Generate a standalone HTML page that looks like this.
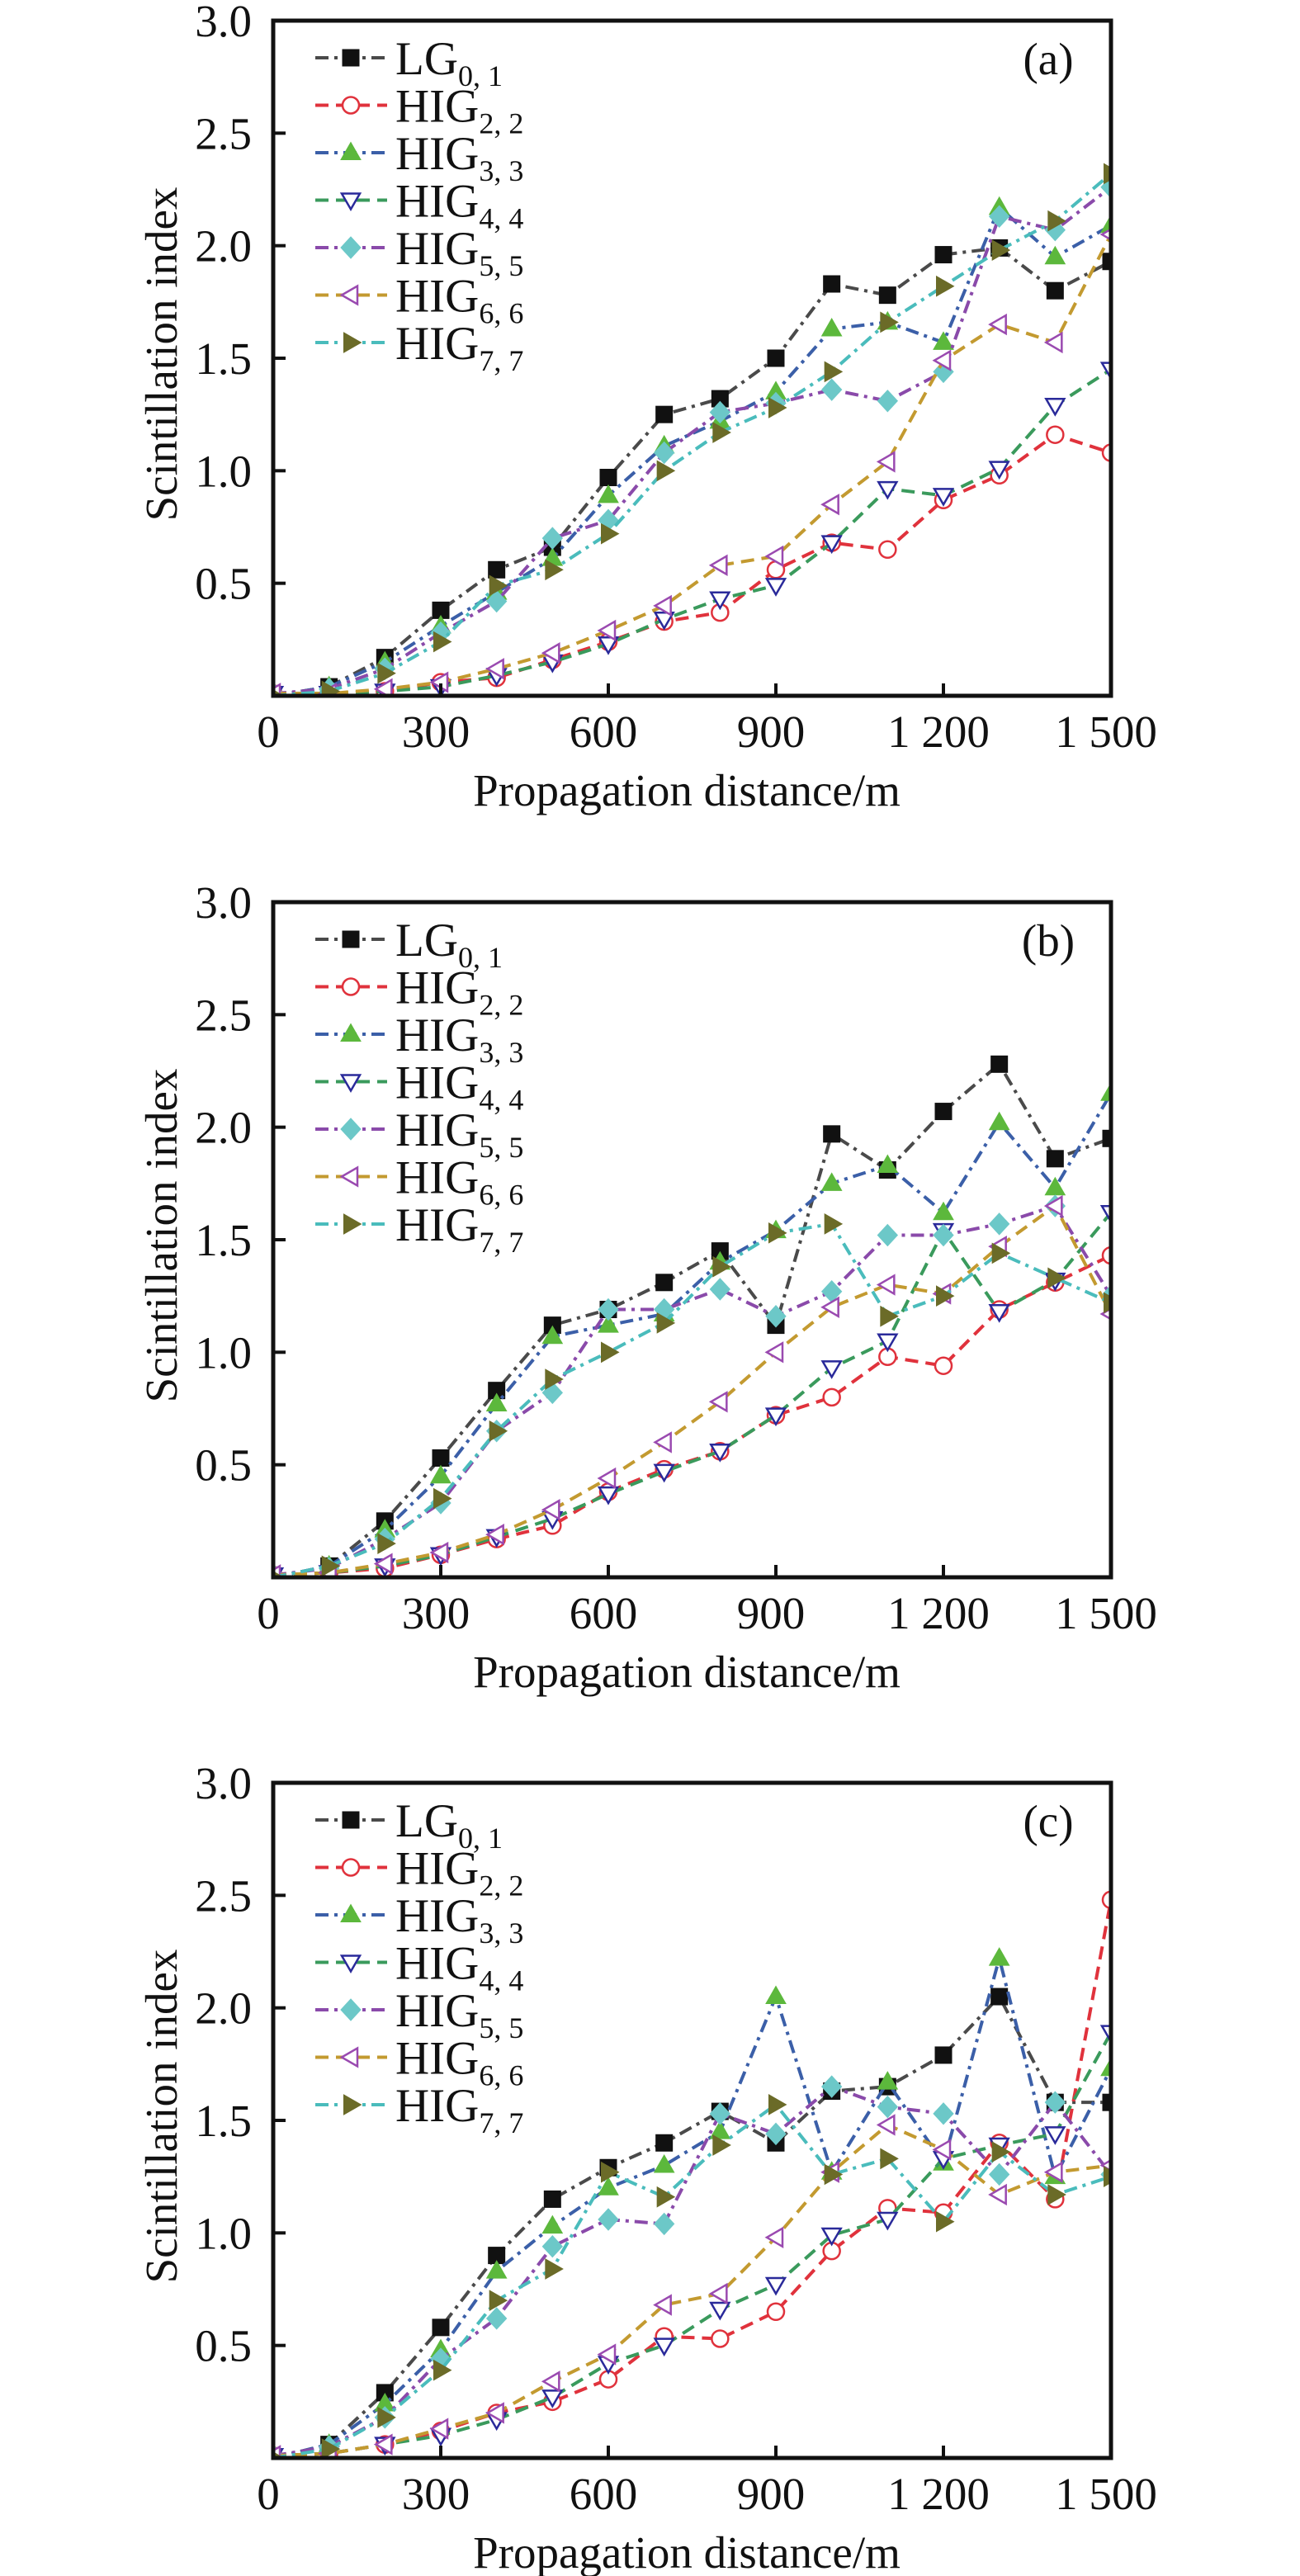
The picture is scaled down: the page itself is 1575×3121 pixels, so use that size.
<!DOCTYPE html>
<html><head><meta charset="utf-8"><style>
html,body{margin:0;padding:0;background:#fff;}
svg{display:block;}
text{font-family:"Liberation Serif","DejaVu Serif",serif;fill:#111;}
</style></head><body>
<svg id="s" width="1575" height="3121" viewBox="0 0 1575 3121" xmlns="http://www.w3.org/2000/svg"></svg>
<script>
const S=document.getElementById('s');const NS='http://www.w3.org/2000/svg';
function el(t,a,p){const e=document.createElementNS(NS,t);for(const k in a)e.setAttribute(k,a[k]);(p||S).appendChild(e);return e;}
const L=331,R=1346,W=R-L,H=818;
const DASH='16,9',DD='16,7,4,7';
const series=[
 {name:'LG',sub:'0, 1',lc:'#4a4a4a',dash:DD,m:'sq',mc:'#111',fill:true},
 {name:'HIG',sub:'2, 2',lc:'#e0323c',dash:DASH,m:'circ',mc:'#e0323c',fill:false},
 {name:'HIG',sub:'3, 3',lc:'#3b5fa8',dash:DD,m:'tri',mc:'#5cb83c',fill:true},
 {name:'HIG',sub:'4, 4',lc:'#3a9a5c',dash:DASH,m:'dtri',mc:'#2a2a9a',fill:false},
 {name:'HIG',sub:'5, 5',lc:'#8a4aaa',dash:DD,m:'dia',mc:'#6cc8c8',fill:true},
 {name:'HIG',sub:'6, 6',lc:'#c39a30',dash:DASH,m:'ltri',mc:'#9a4ab0',fill:false},
 {name:'HIG',sub:'7, 7',lc:'#4abcbc',dash:DD,m:'rtri',mc:'#6b6b28',fill:true}];
const data={
a:[[0,.04,.17,.38,.56,.66,.97,1.25,1.32,1.50,1.83,1.78,1.96,1.99,1.80,1.93],
[.01,.01,.02,.06,.08,.16,.24,.33,.37,.56,.68,.65,.87,.98,1.16,1.08],
[0,.04,.15,.31,.46,.61,.89,1.11,1.22,1.35,1.63,1.66,1.57,2.17,1.95,2.09],
[.01,.01,.02,.04,.09,.15,.23,.34,.43,.49,.68,.92,.89,1.01,1.29,1.45],
[.01,.03,.12,.28,.42,.70,.78,1.08,1.26,1.30,1.36,1.31,1.44,2.13,2.07,2.26],
[.01,.01,.03,.06,.12,.19,.29,.40,.58,.62,.85,1.04,1.49,1.65,1.57,2.05],
[0,.02,.10,.24,.49,.56,.72,1.00,1.17,1.28,1.44,1.66,1.82,1.98,2.11,2.32]],
b:[[0,.05,.25,.53,.83,1.12,1.19,1.31,1.45,1.12,1.97,1.81,2.07,2.28,1.86,1.95],
[.01,.02,.04,.10,.17,.23,.38,.48,.56,.72,.80,.98,.94,1.19,1.31,1.43],
[0,.05,.21,.45,.77,1.07,1.12,1.17,1.40,1.54,1.75,1.83,1.62,2.02,1.73,2.15],
[.01,.02,.05,.10,.18,.26,.37,.47,.56,.72,.93,1.05,1.54,1.18,1.32,1.62],
[.01,.04,.17,.33,.65,.82,1.19,1.19,1.28,1.16,1.27,1.52,1.52,1.57,1.65,1.25],
[.01,.02,.06,.11,.19,.30,.44,.60,.78,1.00,1.20,1.30,1.26,1.47,1.65,1.17],
[0,.05,.15,.35,.65,.88,1.00,1.13,1.38,1.53,1.57,1.16,1.25,1.44,1.33,1.22]],
c:[[0,.06,.29,.58,.90,1.15,1.29,1.40,1.54,1.40,1.63,1.65,1.79,2.05,1.58,1.58],
[.01,.02,.06,.12,.20,.25,.35,.54,.53,.65,.92,1.11,1.09,1.40,1.15,2.48],
[0,.06,.24,.48,.83,1.03,1.20,1.30,1.45,2.05,1.27,1.67,1.31,2.22,1.25,1.73],
[.01,.02,.06,.10,.17,.27,.42,.50,.66,.77,.99,1.06,1.33,1.39,1.44,1.89],
[.01,.05,.18,.44,.62,.94,1.06,1.04,1.53,1.44,1.65,1.56,1.53,1.26,1.58,1.26],
[.01,.02,.06,.13,.20,.34,.46,.68,.73,.98,1.27,1.48,1.37,1.17,1.27,1.30],
[0,.04,.18,.39,.70,.84,1.27,1.16,1.39,1.57,1.26,1.33,1.05,1.36,1.17,1.25]]};
function marker(g,s,x,y,r){
 const f=s.fill?s.mc:'#fff',st={fill:f,stroke:s.mc,'stroke-width':s.fill?1:2.5};
 let p;
 if(s.m==='sq')return el('rect',Object.assign({x:x-r,y:y-r,width:2*r,height:2*r},st),g);
 if(s.m==='circ')return el('circle',Object.assign({cx:x,cy:y,r:r},st),g);
 if(s.m==='tri')p=[[x,y-r*1.25],[x-r*1.2,y+r*0.85],[x+r*1.2,y+r*0.85]];
 if(s.m==='dtri')p=[[x,y+r*1.1],[x-r*1.1,y-r*0.8],[x+r*1.1,y-r*0.8]];
 if(s.m==='ltri')p=[[x-r*1.1,y],[x+r*0.8,y-r*1.1],[x+r*0.8,y+r*1.1]];
 if(s.m==='rtri')p=[[x+r*1.25,y],[x-r*0.85,y-r*1.2],[x-r*0.85,y+r*1.2]];
 if(s.m==='dia')p=[[x,y-r*1.3],[x+r*1.2,y],[x,y+r*1.3],[x-r*1.2,y]];
 return el('polygon',Object.assign({points:p.map(q=>q.join(',')).join(' ')},st),g);
}
function panel(T,key,lab){
 const B=T+H;const X=v=>L+v*W/1500,Y=v=>B-v*H/3;
 const cid='c'+key;const cp=el('clipPath',{id:cid});el('rect',{x:L,y:T,width:W,height:H},cp);
 const g=el('g',{'clip-path':'url(#'+cid+')'});
 data[key].forEach((d,i)=>{const s=series[i];
  el('polyline',{points:d.map((v,j)=>X(j*100)+','+Y(v)).join(' '),fill:'none',stroke:s.lc,'stroke-width':4,'stroke-dasharray':s.dash},g);
  d.forEach((v,j)=>marker(g,s,X(j*100),Y(v),10));});
 el('rect',{x:L,y:T,width:W,height:H,fill:'none',stroke:'#111','stroke-width':5});
 [0.5,1,1.5,2,2.5].forEach(v=>el('line',{x1:L,x2:L+15,y1:Y(v),y2:Y(v),stroke:'#111','stroke-width':4}));
 [300,600,900,1200].forEach(v=>el('line',{x1:X(v),x2:X(v),y1:B,y2:B-15,stroke:'#111','stroke-width':4}));
 ['0.5','1.0','1.5','2.0','2.5','3.0'].forEach(t=>{const e=el('text',{x:305,y:Y(+t)+19,'text-anchor':'end','font-size':55});e.textContent=t;});
 [['0',0],['300',300],['600',600],['900',900],['1 200',1200],['1 500',1500]].forEach(([t,v])=>{const e=el('text',{x:X(v)-6,y:B+62,'text-anchor':'middle','font-size':55});e.textContent=t;});
 let e=el('text',{x:832,y:B+133,'text-anchor':'middle','font-size':55});e.textContent='Propagation distance/m';
 e=el('text',{x:0,y:0,'text-anchor':'middle','font-size':55,transform:'translate(214,'+(T+404)+') rotate(-90)'});e.textContent='Scintillation index';
 e=el('text',{x:1270,y:T+65,'text-anchor':'middle','font-size':55});e.textContent=lab;
 series.forEach((s,i)=>{const y=T+45+i*57.5;
  el('line',{x1:382,x2:469,y1:y,y2:y,stroke:s.lc,'stroke-width':4,'stroke-dasharray':s.dash});
  marker(S,s,425,y,10);
  const t=el('text',{x:479,y:y+20,'font-size':57});t.textContent=s.name;
  const ts=el('tspan',{'font-size':36,dy:14},t);ts.textContent=s.sub;});
}
panel(25,'a','(a)');panel(1093,'b','(b)');panel(2160,'c','(c)');
</script>
</body></html>
